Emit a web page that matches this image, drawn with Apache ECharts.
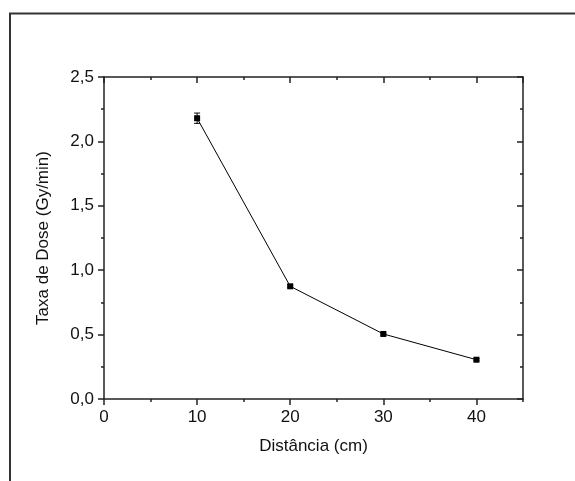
<!DOCTYPE html>
<html>
<head>
<meta charset="utf-8">
<script src="https://cdn.jsdelivr.net/npm/echarts@6/dist/echarts.min.js"></script>
<style>
  html, body { margin: 0; padding: 0; background: #fff; }
  #doseChart { width: 575px; height: 481px; }
</style>
</head>
<body>
<div id="doseChart"></div>
<script>
const doseChart = echarts.init(document.getElementById('doseChart'));

// data
const distances = [10, 20, 30, 40];
const doseRate = [2.18, 0.875, 0.505, 0.305];
const doseErr = [0.04, 0.01, 0.008, 0.008];

const axisColor = '#222';
const fontName = 'Liberation Sans';

function commaLabel(val) {
    return val.toFixed(1).replace('.', ',');
}

// secondary axis with no labels, only ticks
function tickAxis(position, interval, len, inside, showLine) {
    return {
        type: 'value', position: position, min: 0, max: 45,
        interval: interval,
        axisLine: { show: showLine, onZero: false, lineStyle: { color: axisColor, width: 1.5 } },
        axisTick: { show: true, inside: inside, length: len, lineStyle: { color: axisColor, width: 1.5 } },
        axisLabel: { show: false },
        splitLine: { show: false }
    };
}

function defineDoseOption() {
    let errData = distances.map((d, i) => [d, doseRate[i] - doseErr[i], doseRate[i] + doseErr[i]]);
    return {
        animation: false,
        backgroundColor: '#fff',
        graphic: [{
            type: 'rect',
            shape: { x: 10, y: 13.5, width: 700, height: 700 },
            style: { fill: 'none', stroke: '#333', lineWidth: 2 }
        }],
        grid: { left: 104, right: 52, top: 77, bottom: 82 },
        xAxis: [
            {
                type: 'value', position: 'bottom', min: 0, max: 45, interval: 10,
                name: 'Distância (cm)', nameLocation: 'middle', nameGap: 39,
                nameTextStyle: { fontFamily: fontName, fontSize: 17, color: '#111' },
                axisLine: { onZero: false, lineStyle: { color: axisColor, width: 1.5 } },
                axisTick: { length: 6, lineStyle: { color: axisColor, width: 1.5 } },
                axisLabel: { showMaxLabel: false, margin: 10, fontFamily: fontName, fontSize: 17, color: '#111' },
                splitLine: { show: false }
            },
            tickAxis('bottom', 5, 3, false, false),
            tickAxis('top', 10, 6, true, true),
            tickAxis('top', 5, 3, true, false)
        ],
        yAxis: [
            {
                type: 'value', position: 'left', min: 0, max: 2.5, interval: 0.5,
                name: 'Taxa de Dose (Gy/min)', nameLocation: 'middle', nameGap: 52,
                nameTextStyle: { fontFamily: fontName, fontSize: 17, color: '#111' },
                axisLine: { show: true, onZero: false, lineStyle: { color: axisColor, width: 1.5 } },
                axisTick: { show: true, length: 6, lineStyle: { color: axisColor, width: 1.5 } },
                minorTick: { show: true, splitNumber: 2, length: 3, lineStyle: { color: axisColor, width: 1.5 } },
                axisLabel: { margin: 10, fontFamily: fontName, fontSize: 17, color: '#111', formatter: commaLabel },
                splitLine: { show: false }
            },
            {
                type: 'value', position: 'right', min: 0, max: 2.5, interval: 0.5,
                axisLine: { show: true, onZero: false, lineStyle: { color: axisColor, width: 1.5 } },
                axisTick: { show: true, inside: true, length: 6, lineStyle: { color: axisColor, width: 1.5 } },
                minorTick: { show: true, splitNumber: 2, length: 3, lineStyle: { color: axisColor, width: 1.5 } },
                axisLabel: { show: false },
                splitLine: { show: false }
            }
        ],
        series: [
            {
                name: 'Taxa de Dose',
                type: 'line',
                symbol: 'rect',
                symbolSize: 6,
                itemStyle: { color: '#000' },
                lineStyle: { color: '#000', width: 1 },
                z: 3,
                data: distances.map((d, i) => [d, doseRate[i]])
            },
            {
                name: 'erro',
                type: 'custom',
                z: 4,
                renderItem: (params, api) => {
                    let low = api.coord([api.value(0), api.value(1)]);
                    let high = api.coord([api.value(0), api.value(2)]);
                    let cap = 3;
                    let style = { stroke: '#000', lineWidth: 1 };
                    return {
                        type: 'group',
                        children: [
                            { type: 'line', shape: { x1: low[0], y1: low[1], x2: high[0], y2: high[1] }, style: style },
                            { type: 'line', shape: { x1: low[0] - cap, y1: low[1], x2: low[0] + cap, y2: low[1] }, style: style },
                            { type: 'line', shape: { x1: high[0] - cap, y1: high[1], x2: high[0] + cap, y2: high[1] }, style: style }
                        ]
                    };
                },
                encode: { x: 0, y: [1, 2] },
                data: errData
            }
        ]
    };
}

doseChart.setOption(defineDoseOption());
</script>
</body>
</html>
